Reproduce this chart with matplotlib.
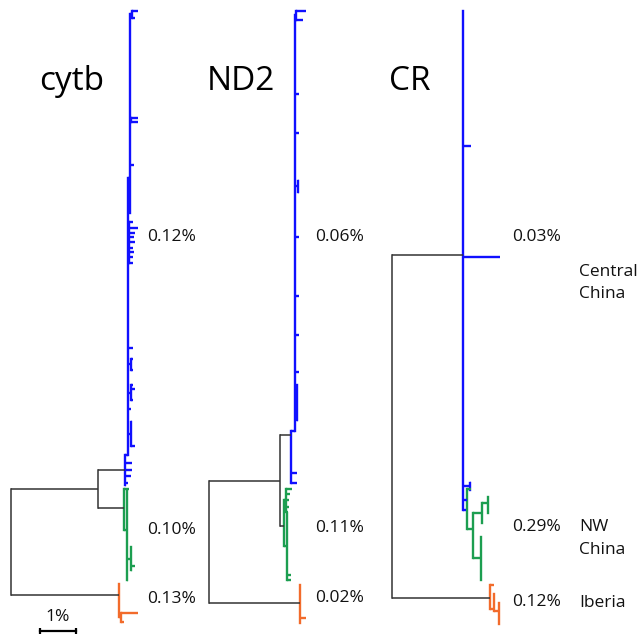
import matplotlib
matplotlib.use("Agg")
import matplotlib.pyplot as plt

plt.rcParams['font.family'] = ['Open Sans', 'DejaVu Sans']

BLUE = '#1010ff'
GREEN = '#1c9e50'
ORANGE = '#f26b2b'
STEM = '#333333'


def N(length, kids, at=None, color=None):
    """Internal node: branch length (% divergence), children, optional row of attachment."""
    return dict(len=length, kids=kids, at=at, color=color)


def L(length, row):
    """Tip: branch length (% divergence) and its row in the tip ordering."""
    return dict(len=length, y=row)


# ---------------- cytb ----------------
cytb_blue = N(0.75, [
    N(0.08, [
        N(0.06, [
            N(0.06, [L(0.14, 0), L(0.08, 1.5)]),
            N(0.03, [L(0.17, 24.5), L(0.17, 25.5)]),
            L(0.10, 35.5),
            L(0.0, 46.5),
        ], at=38.5),
        N(0.03, [L(0.10, 48.5), L(0.25, 50), L(0.17, 51), L(0.14, 52),
                 L(0.17, 53), L(0.11, 54.5), L(0.14, 55.5), L(0.10, 56.5),
                 L(0.11, 58)], at=52),
        L(0.14, 77.5),
        N(0.08, [L(0.06, 80), L(0.06, 82.5)]),
        N(0.08, [L(0.06, 86), L(0.10, 87), L(0.06, 89.5)]),
        L(0.08, 91.5),
        N(0.08, [L(0.03, 94.5), L(0.03, 98), L(0.11, 100)]),
        L(0.0, 101.5),
    ], at=102),
    L(0.19, 104), L(0.19, 105.5), L(0.17, 107), L(0.08, 108.5), L(0.03, 109),
], at=105.5, color=BLUE)

cytb_green = N(0.72, [
    L(0.14, 110),
    N(0.08, [
        L(0.0, 110.1),
        N(0.11, [L(0.0, 123.2), L(0.11, 127.6), L(0.03, 128.5)], at=126),
        L(0.03, 130.8),
    ], at=119.3),
], at=114.3, color=GREEN)

cytb_orange = N(3.00, [
    L(0.0, 131.7),
    N(0.06, [L(0.47, 138.4), L(0.08, 140.5)], at=139.3),
], at=134.3, color=ORANGE)

cytb_tree = N(0, [N(2.42, [cytb_blue, cytb_green]), cytb_orange])

# ---------------- ND2 ----------------
nd2_blue = N(0.31, [
    N(0.11, [
        N(0.03, [L(0.28, 0), L(0.19, 2)]),
        L(0.11, 19), L(0.11, 28),
        N(0.08, [L(0.03, 39), L(0.03, 41.5)]),
        L(0.11, 52), L(0.11, 65.5), L(0.11, 74.5), L(0.11, 83),
        N(0.06, [L(0.0, 86), L(0.03, 94)]),
        L(0.0, 96.5),
    ], at=96.5),
    L(0.17, 106.2), L(0.17, 108.5),
], at=97.5, color=BLUE)

nd2_green = N(0.11, [
    N(0.06, [L(0.17, 110), L(0.11, 111), L(0.08, 112.5), L(0.08, 114),
             L(0.06, 115.2)], at=112.5),
    N(0.08, [L(0.0, 115.5), L(0.11, 129.7), L(0.11, 130.8)], at=123),
], at=118.5, color=GREEN)

nd2_orange = N(2.53, [L(0.0, 131.9), L(0.17, 139.5), L(0.0, 140.7)],
               at=136.1, color=ORANGE)

nd2_tree = N(0, [N(1.97, [nd2_blue, nd2_green]), nd2_orange])

# ---------------- CR ----------------
cr_green = N(0.11, [
    L(0.11, 110),
    N(0.17, [
        N(0.25, [N(0.17, [L(0.0, 111.7), L(0.0, 115.4)], at=113.1),
                 L(0.0, 117.7)], at=115.4),
        N(0.22, [L(0.0, 120.9), L(0.0, 130.8)], at=125.7),
    ], at=119.1),
], at=112.5, color=GREEN)

cr_blue = N(1.97, [
    L(0.0, 0), L(0.22, 31), L(1.03, 56.5),
    N(0.19, [L(0.03, 108.5), L(0.0, 110.1)]),
    cr_green,
    L(0.08, 114.7),
], at=56, color=BLUE)

cr_orange = N(2.72, [
    L(0.11, 131.9),
    N(0.11, [L(0.0, 134), N(0.14, [L(0.0, 136.2), L(0.0, 140.9)], at=138)],
      at=137.5),
], at=135, color=ORANGE)

cr_tree = N(0, [cr_blue, cr_orange])

# ---------------- panels & labels ----------------
genes = ['cytb', 'ND2', 'CR']
trees = [cytb_tree, nd2_tree, cr_tree]
root_x = [0.31, 5.81, 10.89]
title_x = [2.00, 6.69, 11.38]
title_row = 18.2

diversity = [['0.12%', '0.10%', '0.13%'],
             ['0.06%', '0.11%', '0.02%'],
             ['0.03%', '0.29%', '0.12%']]
diversity_x = [4.08, 8.75, 14.22]
diversity_rows = [[52, 119.3, 135.2],
                  [52, 118.9, 134.9],
                  [52, 118.6, 135.9]]

regions = ['Central\nChina', 'NW\nChina', 'Iberia']
region_rows = [62.5, 121.3, 136.1]
region_x = 16.08

scale_len = 1.0  # % divergence
scale_start = 1.11
scale_row = 142.5
scale_label_row = 139.3


def draw(ax, node, x0, parent_color):
    color = node.get('color') or parent_color
    x = x0 + node['len']
    lw_h = 1.1 if parent_color == STEM else 1.7
    if 'y' in node:
        y = node['y']
        if node['len'] > 0:
            ax.plot([x0, x], [y, y], color=parent_color, lw=lw_h,
                    solid_capstyle='butt')
        return y
    ys = [draw(ax, k, x, color) for k in node['kids']]
    y = node['at'] if node['at'] is not None else (min(ys) + max(ys)) / 2
    lw_v = 1.1 if color == STEM else 1.7
    ax.plot([x, x], [min(ys + [y]), max(ys + [y])], color=color, lw=lw_v,
            solid_capstyle='projecting')
    if node['len'] > 0:
        ax.plot([x0, x], [y, y], color=parent_color, lw=lw_h,
                solid_capstyle='butt')
    return y


fig = plt.figure(figsize=(6.41, 6.36), dpi=100)
ax = fig.add_axes([0, 0, 1, 1])
ax.set_xlim(0, 641 / 36)
ax.set_ylim(143.7, -2.53)
ax.axis('off')

for gene, tree, rx, tx, labs, rows, dx in zip(genes, trees, root_x, title_x,
                                               diversity, diversity_rows,
                                               diversity_x):
    draw(ax, tree, rx, STEM)
    ax.text(tx, title_row, gene, fontsize=24, ha='center', va='baseline',
            color='black')
    for lab, r in zip(labs, rows):
        ax.text(dx, r, lab, fontsize=12.5, ha='left', va='center',
                color='#111111')

for reg, r in zip(regions, region_rows):
    ax.text(region_x, r, reg, fontsize=12.5, ha='left', va='center',
            color='#111111', linespacing=1.55)

# scale bar
ax.plot([scale_start, scale_start + scale_len], [scale_row, scale_row],
        color='black', lw=1.6)
ax.plot([scale_start, scale_start + scale_len], [scale_row, scale_row],
        ls='none', marker='|', ms=5, mew=1.6, color='black')
ax.text(scale_start + scale_len / 2, scale_label_row, '1%', fontsize=12.5,
        ha='center', va='center', color='#111111')

fig.savefig('out.png', dpi=100)
